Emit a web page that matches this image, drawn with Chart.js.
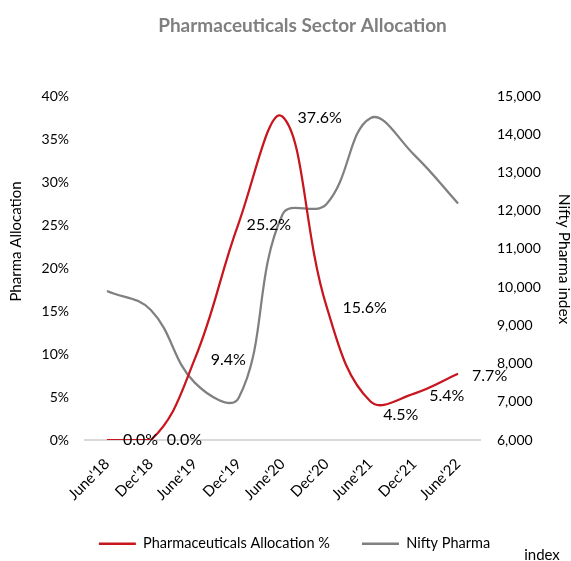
<!DOCTYPE html>
<html><head><meta charset="utf-8">
<script src="https://cdn.jsdelivr.net/npm/chart.js@4"></script>
<style>html,body{margin:0;padding:0;background:#fff}#wrap{width:571px;height:561px}</style>
</head><body><div id="wrap"><canvas id="c" width="571" height="561"></canvas></div>
<script>
// ---- data ----
const categories = ["June'18","Dec'18","June'19","Dec'19","June'20","Dec'20","June'21","Dec'21","June'22"];
const allocationPct = [0.0, 0.0, 9.4, 25.2, 37.6, 15.6, 4.5, 5.4, 7.7];
const niftyPharma = [9900, 9400, 7500, 7100, 11900, 12170, 14420, 13460, 12190];
const leftTickValues = [0, 5, 10, 15, 20, 25, 30, 35, 40];
const rightTickValues = [6000, 7000, 8000, 9000, 10000, 11000, 12000, 13000, 14000, 15000];
const seriesNames = ['Pharmaceuticals Allocation %', 'Nifty Pharma'];
const chartTitle = 'Pharmaceuticals Sector Allocation';
const leftAxisTitle = 'Pharma Allocation';
const rightAxisTitle = 'Nifty Pharma index';
const strayText = 'index';

// ---- style ----
const RED = '#c8161e';
const GRAY = '#808080';
const TXT = '#000000';
Chart.defaults.font.family = 'Lato';

const textPlugin = {
  id: 'extraText',
  afterDraw(chart, args, opts) {
    const ctx = chart.ctx;
    ctx.save();
    ctx.fillStyle = TXT;
    // data labels
    const meta = chart.getDatasetMeta(0);
    ctx.font = '16px Lato';
    ctx.textAlign = 'left';
    ctx.textBaseline = 'middle';
    meta.data.forEach((pt, i) => {
      ctx.fillText(allocationPct[i].toFixed(1) + '%', pt.x + opts.dx[i], pt.y + opts.dy[i]);
    });
    // axis titles
    ctx.textAlign = 'center';
    ctx.font = '15px Lato';
    ctx.save();
    ctx.translate(16, 241.5);
    ctx.rotate(-Math.PI / 2);
    ctx.fillText(leftAxisTitle, 0, 0);
    ctx.restore();
    ctx.save();
    ctx.font = '15.5px Lato';
    ctx.translate(564, 259);
    ctx.rotate(Math.PI / 2);
    ctx.fillText(rightAxisTitle, 0, 0);
    ctx.restore();
    ctx.font = '15px Lato';
    ctx.fillText(strayText, 542, 555);
    ctx.restore();
  }
};

const boxShift = {
  id: 'boxShift',
  afterLayout(chart, args, opts) {
    if (chart.legend) { chart.legend.left += opts.legendDx; chart.legend.right += opts.legendDx; }
    if (chart.titleBlock) { chart.titleBlock.left += opts.titleDx; chart.titleBlock.right += opts.titleDx; }
  }
};

new Chart(document.getElementById('c'), {
  type: 'line',
  data: {
    labels: categories,
    datasets: [
      { label: seriesNames[0], data: allocationPct, yAxisID: 'y', borderColor: RED, backgroundColor: RED,
        borderWidth: 2.25, pointRadius: 0, tension: 0.4, fill: false },
      { label: seriesNames[1], data: niftyPharma, yAxisID: 'y1', borderColor: GRAY, backgroundColor: GRAY,
        borderWidth: 2.25, pointRadius: 0, tension: 0.4, fill: false }
    ]
  },
  plugins: [textPlugin, boxShift],
  options: {
    responsive: false,
    animation: false,
    layout: { padding: 0 },
    plugins: {
      title: { display: true, text: chartTitle, color: '#7f7f7f',
        font: { family: 'Lato', size: 19, weight: 'bold' }, padding: { top: 14.6, bottom: 58.6 } },
      legend: {
        position: 'bottom',
        labels: {
          boxWidth: 37, boxHeight: 2.5, padding: 32, color: TXT, font: { size: 14.5 },
          generateLabels(chart) {
            const items = Chart.defaults.plugins.legend.labels.generateLabels(chart);
            items.forEach(it => { it.lineWidth = 0; });
            return items;
          }
        }
      },
      tooltip: { enabled: false },
      extraText: { dx: [16, 16, 16, 8, 15, 16, 13, 15, 14], dy: [0, 0, 1, 2, 1, 2, 14, 2, 2] },
      boxShift: { legendDx: 9, titleDx: 17 }
    },
    scales: {
      x: {
        offset: true, z: 1,
        grid: { display: false, drawTicks: false },
        border: { display: true, color: '#d9d9d9', width: 2 },
        ticks: { minRotation: 45, maxRotation: 45, padding: 15, color: TXT, font: { size: 15 } },
        afterFit(s) { s.height = 64.5; }
      },
      y: {
        position: 'left', min: 0, max: 40,
        grid: { display: false, drawTicks: false }, border: { display: false },
        afterBuildTicks(s) { s.ticks = leftTickValues.map(v => ({ value: v })); },
        ticks: { padding: 16, color: TXT, font: { size: 14 }, callback: v => v + '%' },
        afterFit(s) { s.width = 85; }
      },
      y1: {
        position: 'right', min: 6000, max: 15000,
        grid: { display: false, drawTicks: false }, border: { display: false },
        afterBuildTicks(s) { s.ticks = rightTickValues.map(v => ({ value: v })); },
        ticks: { padding: 17, color: TXT, font: { size: 14 }, callback: v => v.toLocaleString('en-US') },
        afterFit(s) { s.width = 91; }
      }
    }
  }
});
</script>
</body></html>
